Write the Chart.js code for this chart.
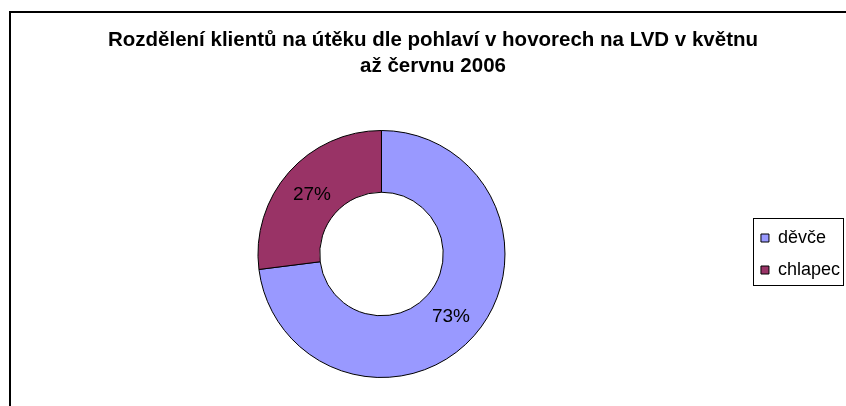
<!DOCTYPE html>
<html>
<head>
<meta charset="utf-8">
<script src="https://cdn.jsdelivr.net/npm/chart.js@4.4.1/dist/chart.umd.min.js"></script>
<style>
  html, body { margin: 0; padding: 0; background: #fff; overflow: hidden; }
  #chart { display: block; }
</style>
</head>
<body>
<canvas id="chart" width="850" height="406"></canvas>
<script>
// data
var categories = ['děvče', 'chlapec'];
var shares = [73, 27];
var sliceColors = ['#9999FF', '#993366'];
var titleLines = ['Rozdělení klientů na útěku dle pohlaví v hovorech na LVD v květnu', 'až červnu 2006'];

var FONT = 'Arial, "Liberation Sans", sans-serif';

// outer frame of the chart (only left and top edges are visible)
var framePlugin = {
  id: 'frame',
  beforeDraw: function(chart) {
    var ctx = chart.ctx;
    ctx.save();
    ctx.fillStyle = '#fff';
    ctx.fillRect(0, 0, chart.width, chart.height);
    ctx.fillStyle = '#000';
    ctx.fillRect(9, 11, chart.width, 2);
    ctx.fillRect(9, 11, 2, chart.height);
    ctx.restore();
  }
};

// centre the legend on the plot area vertically
var legendPlacePlugin = {
  id: 'legendPlace',
  afterLayout: function(chart) {
    var lg = chart.legend;
    if (!lg) return;
    var shift = ((chart.chartArea.top + chart.chartArea.bottom) - (lg.top + lg.bottom)) / 2;
    lg.top = chart.chartArea.top;
    lg.bottom = chart.chartArea.bottom;
    lg.height = lg.bottom - lg.top;
    (lg.legendHitBoxes || []).forEach(function(h) { h.top += shift; });
  }
};

// percentage labels in the middle of each ring slice
var labelPlugin = {
  id: 'sliceLabels',
  afterDatasetsDraw: function(chart) {
    var ctx = chart.ctx;
    var meta = chart.getDatasetMeta(0);
    var total = shares.reduce(function(a, b) { return a + b; }, 0);
    ctx.save();
    ctx.font = '19px ' + FONT;
    ctx.fillStyle = '#000';
    ctx.textAlign = 'center';
    ctx.textBaseline = 'middle';
    meta.data.forEach(function(arc, i) {
      var p = arc.tooltipPosition();
      ctx.fillText(Math.round(shares[i] / total * 100) + '%', p.x, p.y + 2);
    });
    ctx.restore();
  }
};

// thin box round the legend
var legendBoxPlugin = {
  id: 'legendBox',
  afterDraw: function(chart) {
    var hb = chart.legend && chart.legend.legendHitBoxes;
    if (!hb || !hb.length) return;
    var last = hb[hb.length - 1];
    var left = hb[0].left - 8;
    var right = Math.max.apply(null, hb.map(function(h) { return h.left + h.width; })) + 3;
    var top = hb[0].top - 11;
    var bottom = last.top + last.height + 6;
    var ctx = chart.ctx;
    ctx.save();
    ctx.strokeStyle = '#000';
    ctx.lineWidth = 1;
    ctx.strokeRect(Math.round(left) + 0.5, Math.round(top) + 0.5, Math.round(right - left), Math.round(bottom - top));
    ctx.restore();
  }
};

var ctx = document.getElementById('chart');
var donut = new Chart(ctx, {
  type: 'doughnut',
  data: {
    labels: categories,
    datasets: [{
      data: shares,
      backgroundColor: sliceColors,
      borderColor: '#000',
      borderWidth: 1
    }]
  },
  options: {
    responsive: false,
    animation: false,
    cutout: '50%',
    layout: {
      padding: { left: 16, right: 0, top: 0, bottom: 28 }
    },
    plugins: {
      title: {
        display: true,
        text: titleLines,
        color: '#000',
        font: { family: FONT, size: 20.5, weight: 'bold', lineHeight: 26 / 20.5 },
        padding: { top: 27, bottom: 51 }
      },
      legend: {
        position: 'right',
        labels: {
          color: '#000',
          font: { family: FONT, size: 18 },
          boxWidth: 8,
          boxHeight: 8,
          padding: 14
        }
      },
      tooltip: { enabled: false }
    }
  },
  plugins: [framePlugin, legendPlacePlugin, labelPlugin, legendBoxPlugin]
});
</script>
</body>
</html>
